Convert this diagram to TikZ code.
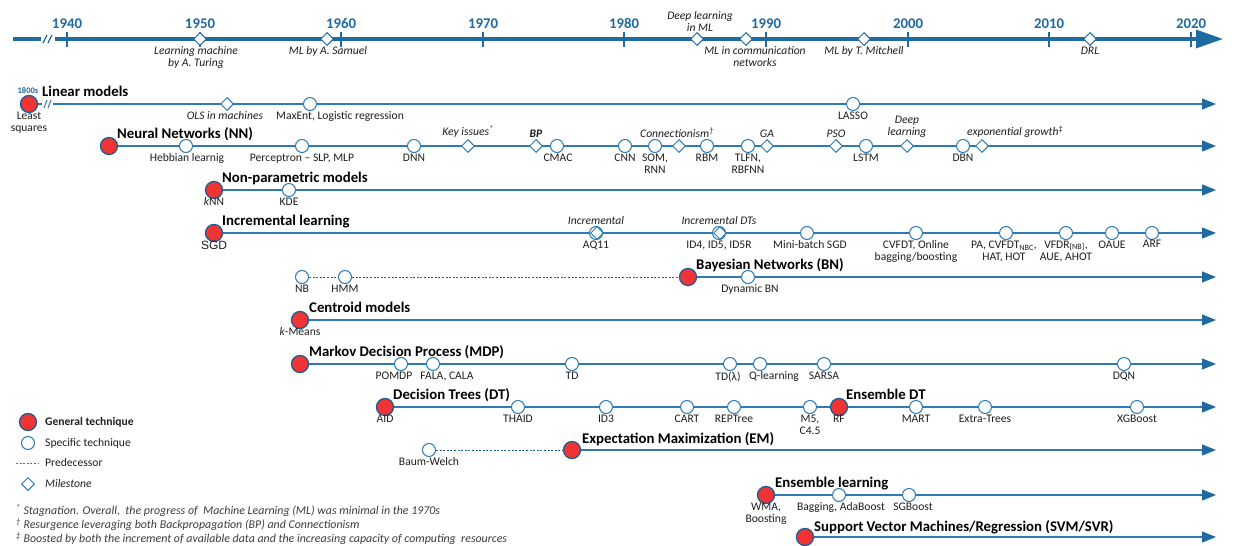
\documentclass[tikz,border=0pt]{standalone}
\usepackage{fontspec}
\setmainfont{Carlito}
\newfontfamily\arialfont{Liberation Sans}
\usetikzlibrary{arrows.meta,shapes.geometric}

\definecolor{axisblue}{RGB}{31,106,160}
\definecolor{rowblue}{RGB}{46,122,180}
\definecolor{rimblue}{RGB}{31,92,148}
\definecolor{genred}{RGB}{240,52,52}
\definecolor{notegrey}{RGB}{60,60,60}
\definecolor{txt}{RGB}{30,30,30}

\pgfdeclarelayer{bg}
\pgfsetlayers{bg,main}

\newcommand\labfont{\fontsize{11.6}{12}\selectfont}

\tikzset{
  gen/.style={circle,fill=genred,draw=rimblue,line width=1.3pt,minimum size=17pt,inner sep=0pt},
  spec/.style={circle,fill=white,draw=rowblue,line width=1pt,minimum size=13pt,inner sep=0pt},
  mile/.style={diamond,fill=white,draw=rowblue,line width=1pt,minimum size=13pt,inner sep=0pt},
  axmile/.style={mile,draw=axisblue},
  lab/.style={font=\labfont,align=center,inner sep=0pt,text=txt,anchor=north},
  milab/.style={lab,font=\labfont\itshape},
  mitop/.style={milab,anchor=south},
  ttl/.style={font=\fontsize{14.8}{17}\selectfont\bfseries,anchor=base west,inner sep=0pt,text=black},
  year/.style={font=\fontsize{14.8}{17}\selectfont\bfseries,text=axisblue,anchor=base,inner sep=0pt},
  axisline/.style={draw=axisblue,line width=3.2pt},
  tickmark/.style={draw=axisblue,line width=2pt},
  rowline/.style={draw=rowblue,line width=1.2pt},
  rowarrow/.style={rowline,-{Triangle[length=14pt,width=11pt,color=axisblue]}},
  pred/.style={draw=rimblue,line width=1pt,dash pattern=on 2pt off 1.6pt},
  legtext/.style={font=\labfont,anchor=west,inner sep=0pt,text=txt},
  note/.style={font=\fontsize{11.9}{13}\selectfont\itshape,anchor=base west,inner sep=0pt,text=notegrey},
}

\begin{document}
\begin{tikzpicture}[x=1pt,y=-1pt]
\useasboundingbox (0,0) rectangle (1235,546);

% ---------------- time axis ----------------
\coordinate (ax0) at (13,39);
\coordinate (axb1) at (41,39);
\coordinate (axb2) at (55,39);
\coordinate (axend) at (1223,39);
\draw[axisline] (ax0) -- (axb1);
\draw[axisline,-{Triangle[length=27pt,width=18pt]}] (axb2) -- (axend);
\draw[axisblue,line width=1.3pt] (43,43) -- (47,35) (48,43) -- (52,35);
\foreach \xx/\yr in {67/1940,200/1950,341/1960,483/1970,624/1980,766/1990,908/2000,1049/2010,1191/2020}{
  \draw[tickmark] (\xx,32) -- (\xx,47);
  \node[year] (yr\yr) at (\xx,28) {\yr};
}

\node[axmile] (m-turing) at (200,39) {};
\node[milab] (t-turing) at (196,46.5) {Learning machine\\by A. Turing};
\node[axmile] (m-samuel) at (327,39) {};
\node[milab] (t-samuel) at (328,46.5) {ML by A. Samuel};
\node[axmile] (m-deep) at (697,39) {};
\node[mitop] (t-deep) at (700,32) {Deep learning\\in ML};
\node[axmile] (m-comm) at (746,39) {};
\node[milab] (t-comm) at (755,46.5) {ML in communication\\networks};
\node[axmile] (m-mitchell) at (864,39) {};
\node[milab] (t-mitchell) at (864,46.5) {ML by T. Mitchell};
\node[axmile] (m-drl) at (1090,39) {};
\node[milab] (t-drl) at (1090,46.5) {DRL};

% ---------------- Linear models ----------------
\node[gen] (lin) at (29,104) {};
\node[font=\fontsize{8.5}{9}\selectfont\bfseries,text=axisblue,inner sep=0pt,anchor=base] (lin-yr) at (28,93) {1800s};
\node[ttl] (lin-t) at (42,96.5) {Linear models};
\node[lab] (lin-l) at (29,111.5) {Least\\squares};
\coordinate (lin-b1) at (42,104);
\coordinate (lin-b2) at (53,104);
\coordinate (lin-end) at (1216,104);
\draw[rowblue,line width=1pt] (44,108) -- (47,100) (48,108) -- (51,100);
\node[mile] (ols) at (227,104) {};
\node[milab] (ols-l) at (225,111.5) {OLS in machines};
\node[spec] (maxent) at (310,104) {};
\node[lab] (maxent-l) at (340,111.5) {MaxEnt, Logistic regression};
\node[spec] (lasso) at (853,104) {};
\node[lab] (lasso-l) at (853,111.5) {LASSO};
\begin{pgfonlayer}{bg}
  \draw[rowline] (lin) -- (lin-b1);
  \draw[rowarrow] (lin-b2) -- (lin-end);
\end{pgfonlayer}

% ---------------- Neural networks ----------------
\node[gen] (nn) at (109,146) {};
\node[ttl] (nn-t) at (117,138.5) {Neural Networks (NN)};
\coordinate (nn-end) at (1216,146);
\node[spec] (hebb) at (186,146) {};
\node[lab] (hebb-l) at (187,153.5) {Hebbian learnig};
\node[spec] (perc) at (302,146) {};
\node[lab] (perc-l) at (302,153.5) {Perceptron – SLP, MLP};
\node[spec] (dnn) at (414,146) {};
\node[lab] (dnn-l) at (414,153.5) {DNN};
\node[mile] (keyi) at (468,146) {};
\node[mitop] (keyi-l) at (468,138) {Key issues\textsuperscript{*}};
\node[mile] (bp) at (536,146) {};
\node[mitop,font=\labfont\bfseries\itshape] (bp-l) at (536,138) {BP};
\node[spec] (cmac) at (557,146) {};
\node[lab] (cmac-l) at (558,153.5) {CMAC};
\node[spec] (cnn) at (625,146) {};
\node[lab] (cnn-l) at (625,153.5) {CNN};
\node[spec] (som) at (655,146) {};
\node[lab] (som-l) at (655,153.5) {SOM,\\RNN};
\node[mile] (conn) at (679,146) {};
\node[mitop] (conn-l) at (677,138) {Connectionism\textsuperscript{†}};
\node[spec] (rbm) at (707,146) {};
\node[lab] (rbm-l) at (707,153.5) {RBM};
\node[spec] (tlfn) at (748,146) {};
\node[lab] (tlfn-l) at (748,153.5) {TLFN,\\RBFNN};
\node[mile] (ga) at (767,146) {};
\node[mitop] (ga-l) at (767,138) {GA};
\node[mile] (pso) at (836,146) {};
\node[mitop] (pso-l) at (836,138) {PSO};
\node[spec] (lstm) at (866,146) {};
\node[lab] (lstm-l) at (866,153.5) {LSTM};
\node[mile] (dl) at (907,146) {};
\node[mitop] (dl-l) at (907,138) {Deep\\learning};
\node[spec] (dbn) at (963,146) {};
\node[lab] (dbn-l) at (963,153.5) {DBN};
\node[mile] (expg) at (982,146) {};
\node[mitop,anchor=south west] (expg-l) at (967,138) {exponential growth\textsuperscript{‡}};
\begin{pgfonlayer}{bg}
  \draw[rowarrow] (nn) -- (nn-end);
\end{pgfonlayer}

% ---------------- Non-parametric models ----------------
\node[gen] (np) at (214,190) {};
\node[ttl] (np-t) at (222,182.5) {Non-parametric models};
\node[lab] (np-l) at (214,197.5) {\textit{k}NN};
\coordinate (np-end) at (1216,190);
\node[spec] (kde) at (289,190) {};
\node[lab] (kde-l) at (289,197.5) {KDE};
\begin{pgfonlayer}{bg}
  \draw[rowarrow] (np) -- (np-end);
\end{pgfonlayer}

% ---------------- Incremental learning ----------------
\node[gen] (inc) at (214,233) {};
\node[ttl] (inc-t) at (222,225.5) {Incremental learning};
\node[lab,font=\fontsize{12}{13}\selectfont\arialfont] (inc-l) at (214,241) {SGD};
\coordinate (inc-end) at (1216,233);
\node[spec] (aq11c) at (596,233) {};
\node[mile,fill=none] (aq11) at (597,233) {};
\node[mitop] (aq11-t) at (596,225) {Incremental};
\node[lab] (aq11-l) at (596,240.5) {AQ11};
\node[spec] (id4c) at (719,233) {};
\node[mile,fill=none] (id4) at (720,233) {};
\node[mitop] (id4-t) at (719,225) {Incremental DTs};
\node[lab] (id4-l) at (719,240.5) {ID4, ID5, ID5R};
\node[spec] (mb) at (807,233) {};
\node[lab] (mb-l) at (810,240.5) {Mini-batch SGD};
\node[spec] (cvfdt) at (916,233) {};
\node[lab] (cvfdt-l) at (916,240.5) {CVFDT, Online\\bagging/boosting};
\node[spec] (pa) at (1006,233) {};
\node[lab] (pa-l) at (1004,240.5) {PA, CVFDT\textsubscript{NBC},\\HAT, HOT};
\node[spec] (vfdr) at (1066,233) {};
\node[lab] (vfdr-l) at (1066,240.5) {VFDR\textsubscript{[NB]},\\AUE, AHOT};
\node[spec] (oaue) at (1112,233) {};
\node[lab] (oaue-l) at (1112,240.5) {OAUE};
\node[spec] (arf) at (1152,233) {};
\node[lab] (arf-l) at (1152,239.5) {ARF};
\begin{pgfonlayer}{bg}
  \draw[rowarrow] (inc) -- (inc-end);
\end{pgfonlayer}

% ---------------- Bayesian networks ----------------
\node[spec] (nb) at (302,277) {};
\node[lab] (nb-l) at (302,284.5) {NB};
\node[spec] (hmm) at (345,277) {};
\node[lab] (hmm-l) at (345,284.5) {HMM};
\node[gen] (bn) at (688,277) {};
\node[ttl] (bn-t) at (696,269.5) {Bayesian Networks (BN)};
\coordinate (bn-end) at (1216,277);
\node[spec] (dbnet) at (748,277) {};
\node[lab] (dbnet-l) at (750,284.5) {Dynamic BN};
\begin{pgfonlayer}{bg}
  \draw[pred] (nb) -- (hmm);
  \draw[pred] (hmm) -- (bn);
  \draw[rowarrow] (bn) -- (bn-end);
\end{pgfonlayer}

% ---------------- Centroid models ----------------
\node[gen] (cen) at (300,320) {};
\node[ttl] (cen-t) at (309,312.5) {Centroid models};
\node[lab] (cen-l) at (300,327.5) {\textit{k}-Means};
\coordinate (cen-end) at (1216,320);
\begin{pgfonlayer}{bg}
  \draw[rowarrow] (cen) -- (cen-end);
\end{pgfonlayer}

% ---------------- Markov decision process ----------------
\node[gen] (mdp) at (300,364) {};
\node[ttl] (mdp-t) at (309,356.5) {Markov Decision Process (MDP)};
\coordinate (mdp-end) at (1216,364);
\node[spec] (pomdp) at (401,364) {};
\node[lab] (pomdp-l) at (394,371.5) {POMDP};
\node[spec] (fala) at (433,364) {};
\node[lab] (fala-l) at (447,371.5) {FALA, CALA};
\node[spec] (td) at (572,364) {};
\node[lab] (td-l) at (572,371.5) {TD};
\node[spec] (tdl) at (730,364) {};
\node[lab] (tdl-l) at (728,371.5) {TD(λ)};
\node[spec] (ql) at (760,364) {};
\node[lab] (ql-l) at (774,371.5) {Q-learning};
\node[spec] (sarsa) at (824,364) {};
\node[lab] (sarsa-l) at (824,371.5) {SARSA};
\node[spec] (dqn) at (1124,364) {};
\node[lab] (dqn-l) at (1124,371.5) {DQN};
\begin{pgfonlayer}{bg}
  \draw[rowarrow] (mdp) -- (mdp-end);
\end{pgfonlayer}

% ---------------- Decision trees ----------------
\node[gen] (dt) at (385,407) {};
\node[ttl] (dt-t) at (393,399.5) {Decision Trees (DT)};
\node[lab] (dt-l) at (385,414.5) {AID};
\coordinate (dt-end) at (1216,407);
\node[spec] (thaid) at (518,407) {};
\node[lab] (thaid-l) at (518,414.5) {THAID};
\node[spec] (id3) at (606,407) {};
\node[lab] (id3-l) at (606,414.5) {ID3};
\node[spec] (cart) at (687,407) {};
\node[lab] (cart-l) at (687,414.5) {CART};
\node[spec] (rep) at (734,407) {};
\node[lab] (rep-l) at (734,414.5) {REPTree};
\node[spec] (m5) at (810,407) {};
\node[lab] (m5-l) at (810,414.5) {M5,\\C4.5};
\node[gen] (rf) at (839,407) {};
\node[lab] (rf-l) at (839,414.5) {RF};
\node[ttl] (rf-t) at (846,399.5) {Ensemble DT};
\node[spec] (mart) at (916,407) {};
\node[lab] (mart-l) at (916,414.5) {MART};
\node[spec] (extra) at (985,407) {};
\node[lab] (extra-l) at (985,414.5) {Extra-Trees};
\node[spec] (xgb) at (1137,407) {};
\node[lab] (xgb-l) at (1137,414.5) {XGBoost};
\begin{pgfonlayer}{bg}
  \draw[rowarrow] (dt) -- (dt-end);
\end{pgfonlayer}

% ---------------- Expectation maximization ----------------
\node[spec] (bw) at (429,450) {};
\node[lab] (bw-l) at (429,457.5) {Baum-Welch};
\node[gen] (em) at (572,450) {};
\node[ttl] (em-t) at (582,443) {Expectation Maximization (EM)};
\coordinate (em-end) at (1216,450);
\begin{pgfonlayer}{bg}
  \draw[pred] (bw) -- (em);
  \draw[rowarrow] (em) -- (em-end);
\end{pgfonlayer}

% ---------------- Ensemble learning ----------------
\node[gen] (el) at (766,495) {};
\node[ttl] (el-t) at (775,487.5) {Ensemble learning};
\node[lab] (el-l) at (766,502.5) {WMA,\\Boosting};
\coordinate (el-end) at (1216,495);
\node[spec] (bag) at (839,495) {};
\node[lab] (bag-l) at (841,502.5) {Bagging, AdaBoost};
\node[spec] (sgb) at (909,495) {};
\node[lab] (sgb-l) at (913,502.5) {SGBoost};
\begin{pgfonlayer}{bg}
  \draw[rowarrow] (el) -- (el-end);
\end{pgfonlayer}

% ---------------- Support vector machines ----------------
\node[gen] (svm) at (805,537) {};
\node[ttl] (svm-t) at (814,531) {Support Vector Machines/Regression (SVM/SVR)};
\coordinate (svm-end) at (1216,537);
\begin{pgfonlayer}{bg}
  \draw[rowarrow] (svm) -- (svm-end);
\end{pgfonlayer}

% ---------------- legend ----------------
\node[gen] (lg-gen) at (28,422) {};
\node[legtext,font=\labfont\bfseries] (lg-gen-t) at (45,422) {General technique};
\node[spec] (lg-spec) at (28,443) {};
\node[legtext] (lg-spec-t) at (45,443) {Specific technique};
\coordinate (lg-p1) at (16,463);
\coordinate (lg-p2) at (38,463);
\draw[pred,draw=rowblue] (lg-p1) -- (lg-p2);
\node[legtext] (lg-pred-t) at (45,463) {Predecessor};
\node[mile] (lg-mile) at (28,484) {};
\node[legtext,font=\labfont\itshape] (lg-mile-t) at (45,484) {Milestone};

% ---------------- footnotes ----------------
\node[note] (fn1) at (16,514.5) {\textsuperscript{*} Stagnation. Overall,\ \ the progress of\ \ Machine Learning (ML) was minimal in the 1970s};
\node[note] (fn2) at (16,528.5) {\textsuperscript{†} Resurgence leveraging both Backpropagation (BP) and Connectionism};
\node[note] (fn3) at (16,542.5) {\textsuperscript{‡} Boosted by both the increment of available data and the increasing capacity of computing\ \ resources};

\end{tikzpicture}
\end{document}
